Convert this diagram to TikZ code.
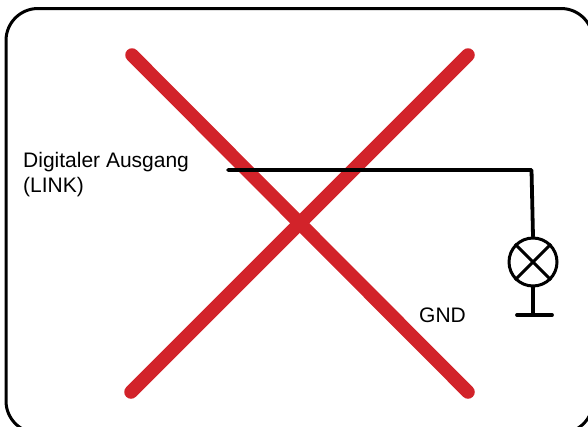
\documentclass[tikz,border=0pt]{standalone}
\usepackage{fontspec}
\setmainfont{Liberation Sans}
\tikzset{
  frame/.style={draw=black,line width=3pt,rounded corners=32pt},
  cross/.style={draw=crossred,line width=13.5pt,line cap=round},
  wire/.style={draw=black,line width=3.8pt,line cap=round,line join=round},
  lampbody/.style={circle,draw=black,line width=3pt,minimum size=48pt,inner sep=0pt},
  lab/.style={inner sep=0pt,font=\fontsize{21pt}{25pt}\selectfont,text=black,align=left}
}
\definecolor{crossred}{HTML}{D2232A}
\begin{document}
\begin{tikzpicture}[x=1pt,y=-1pt]
\useasboundingbox (0,0) rectangle (588,426);
\path[frame] (6,8.5) rectangle (593,433);
\coordinate (tl) at (132,55);
\coordinate (tr) at (468,55);
\coordinate (bl) at (131,392);
\coordinate (br) at (468,392);
\draw[cross] (tl) -- (br);
\draw[cross] (bl) -- (tr);
\node[lab,anchor=west] (out) at (23,174.5) {Digitaler Ausgang\\(LINK)};
\node[lab,anchor=center] (gnd) at (442.5,315) {GND};
\node[lampbody] (lamp) at (533,262) {};
\coordinate (start) at (228,170);
\coordinate (corner) at (531.5,170);
\coordinate (foot) at (533,315);
\coordinate (barl) at (517,315);
\coordinate (barr) at (552,315);
\draw[wire] (start) -- (corner) -- (lamp.north);
\draw[wire] (lamp.south) -- (foot);
\draw[wire] (barl) -- (barr);
\draw[draw=black,line width=3pt] (lamp.north west) -- (lamp.south east);
\draw[draw=black,line width=3pt] (lamp.north east) -- (lamp.south west);
\end{tikzpicture}
\end{document}
